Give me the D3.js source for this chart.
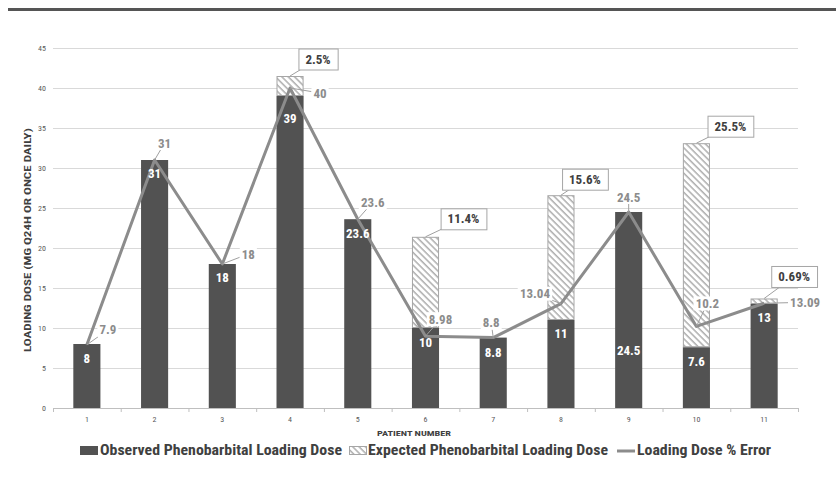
<!DOCTYPE html>
<html>
<head>
<meta charset="utf-8">
<script src="https://cdn.jsdelivr.net/npm/d3@7"></script>
<style>
  html, body { margin: 0; padding: 0; background: #fff; }
  svg { display: block; }
  text { font-family: 'Liberation Sans Narrow', 'Roboto Condensed', 'Open Sans', sans-serif; }
</style>
</head>
<body>
<svg id="chart" width="836" height="483"></svg>
<script>
// data
const patients = ['1', '2', '3', '4', '5', '6', '7', '8', '9', '10', '11'];
const observed = [8, 31, 18, 39, 23.6, 10, 8.8, 11, 24.5, 7.6, 13];
const pctError = [0, 0, 0, 2.5, 0, 11.4, 0, 15.6, 0, 25.5, 0.69];
const expectedLine = [7.9, 31, 18, 40, 23.6, 8.98, 8.8, 13.04, 24.5, 10.2, 13.09];
const lineLabels = ['7.9', '31', '18', '40', '23.6', '8.98', '8.8', '13.04', '24.5', '10.2', '13.09'];
const yTicks = [0, 5, 10, 15, 20, 25, 30, 35, 40, 45];

// label placement nudges (pixels)
const lineLabelNudge = [[21, -15], [10, -17], [26, -10], [30, 5], [15, -17], [15, -17],
                        [-2, -15], [-26, -10], [0, -15], [11, -23], [41, -1]];
const obsLabelDy = [14, 13, 13, 22, 14, 14, 15, 13, 138, 14, 13];
const calloutNudge = {3: [28, -17], 5: [38, -18], 7: [24, -16], 9: [34, -17], 10: [30, -22]};

const svg = d3.select('#chart');
const dark = '#525252', lineCol = '#8c8c8c', grid = '#d9d9d9';

// header rule
svg.append('rect').attr('x', 8).attr('y', 8).attr('width', 828).attr('height', 3).attr('fill', '#555');

const x = d3.scaleBand().domain(patients).range([53, 798]).paddingInner(0.6).paddingOuter(0.3);
const y = d3.scaleLinear().domain([0, 45]).range([408, 48]);
const step = x.step();

const defs = svg.append('defs');
defs.append('pattern')
    .attr('id', 'hatch')
    .attr('patternUnits', 'userSpaceOnUse')
    .attr('width', 4.5).attr('height', 4.5)
    .attr('patternTransform', 'rotate(-45)')
  .call(p => {
      p.append('rect').attr('width', 4.5).attr('height', 4.5).attr('fill', '#fff');
      p.append('line').attr('x1', 1).attr('x2', 1).attr('y1', 0).attr('y2', 4.5)
          .attr('stroke', '#9a9a9a').attr('stroke-width', 1.2);
  });

// gridlines
svg.append('g').selectAll('line').data(yTicks.filter(d => d > 0)).join('line')
    .attr('x1', 53).attr('x2', 798)
    .attr('y1', d => y(d) + 0.5).attr('y2', d => y(d) + 0.5)
    .attr('stroke', grid);

// y axis labels
const yAxis = svg.append('g')
    .attr('transform', 'translate(46,0)')
    .call(d3.axisLeft(y).tickValues(yTicks).tickSize(0).tickPadding(0));
yAxis.select('.domain').remove();
yAxis.selectAll('text').attr('fill', '#595959').style('font-size', '8px')
    .style('font-family', "'Liberation Sans Narrow', 'Roboto Condensed', sans-serif");

// x axis
svg.append('line').attr('x1', 53).attr('x2', 798).attr('y1', 408.5).attr('y2', 408.5).attr('stroke', '#bfbfbf');
svg.append('g').selectAll('line').data(d3.range(patients.length + 1)).join('line')
    .attr('x1', i => 53 + i * step + 0.5).attr('x2', i => 53 + i * step + 0.5)
    .attr('y1', 408).attr('y2', 412).attr('stroke', '#bfbfbf');
svg.append('g').selectAll('text').data(patients).join('text')
    .attr('x', d => x(d) + x.bandwidth() / 2).attr('y', 422)
    .attr('text-anchor', 'middle').attr('fill', '#595959').style('font-size', '8px')
    .text(d => d);

// axis titles
svg.append('text')
    .attr('x', 414).attr('y', 436).attr('text-anchor', 'middle')
    .attr('fill', '#404040').style('font-size', '8px').style('font-weight', 'bold')
    .attr('textLength', 74).attr('lengthAdjust', 'spacingAndGlyphs')
    .text('PATIENT NUMBER');
svg.append('text')
    .attr('transform', 'translate(31,240) rotate(-90)')
    .attr('text-anchor', 'middle')
    .attr('fill', '#404040').style('font-size', '9.5px').style('font-weight', 'bold')
    .attr('textLength', 224).attr('lengthAdjust', 'spacingAndGlyphs')
    .text('LOADING DOSE (MG Q24H OR ONCE DAILY)');

// bars
svg.append('g').selectAll('rect').data(patients).join('rect')
    .attr('x', d => x(d)).attr('width', x.bandwidth())
    .attr('y', (d, i) => y(observed[i]))
    .attr('height', (d, i) => y(0) - y(observed[i]))
    .attr('fill', dark);

const hatchIdx = d3.range(patients.length).filter(i => pctError[i] > 0);
svg.append('g').selectAll('rect').data(hatchIdx).join('rect')
    .attr('x', i => x(patients[i]) + 0.5).attr('width', x.bandwidth() - 1)
    .attr('y', i => y(observed[i] + pctError[i]) + 0.5)
    .attr('height', i => y(observed[i]) - y(observed[i] + pctError[i]) - 1)
    .attr('fill', 'url(#hatch)').attr('stroke', '#a6a6a6');

// line
const cx = i => x(patients[i]) + x.bandwidth() / 2;
svg.append('path')
    .datum(expectedLine)
    .attr('d', d3.line().x((d, i) => cx(i)).y(d => y(d)))
    .attr('fill', 'none').attr('stroke', lineCol).attr('stroke-width', 3)
    .attr('stroke-linejoin', 'round');

// line data labels with leaders
const lineLab = svg.append('g');
expectedLine.forEach((v, i) => {
    const px = cx(i), py = y(v);
    const lx = px + lineLabelNudge[i][0], ly = py + lineLabelNudge[i][1];
    const g = lineLab.append('g');
    const t = g.append('text').attr('x', lx).attr('y', ly).attr('dy', '0.35em')
        .attr('text-anchor', 'middle').attr('fill', '#8c8c8c')
        .style('font-size', '13px').style('font-weight', 'bold')
        .text(lineLabels[i]);
    const bb = t.node().getBBox();
    const hw = bb.width / 2 + 2, hh = 7;
    // leader from point to label box edge
    const dx = px - lx, dy = py - ly;
    const s = Math.min(Math.abs(dx) > 0 ? hw / Math.abs(dx) : Infinity, Math.abs(dy) > 0 ? hh / Math.abs(dy) : Infinity);
    if (s < 0.75) {
        lineLab.insert('line', ':first-child')
            .attr('x1', px).attr('y1', py)
            .attr('x2', lx + dx * s).attr('y2', ly + dy * s)
            .attr('stroke', '#a0a0a0').attr('stroke-width', 1);
    }
    g.insert('rect', 'text').attr('x', lx - hw).attr('y', ly - hh).attr('width', hw * 2).attr('height', hh * 2)
        .attr('fill', '#fff');
});

// observed labels (white)
svg.append('g').selectAll('text').data(patients).join('text')
    .attr('x', d => x(d) + x.bandwidth() / 2)
    .attr('y', (d, i) => y(observed[i]) + obsLabelDy[i])
    .attr('dy', '0.35em').attr('text-anchor', 'middle')
    .attr('fill', '#fff').style('font-size', '13px').style('font-weight', 'bold')
    .text((d, i) => observed[i]);

// % error callouts
const call = svg.append('g');
hatchIdx.forEach(i => {
    const tx = cx(i), ty = y(observed[i] + pctError[i]);
    const [nx, ny] = calloutNudge[i];
    const bx = tx + nx, by = ty + ny;
    const t = call.append('text').attr('x', bx).attr('y', by).attr('dy', '0.35em')
        .attr('text-anchor', 'middle').attr('fill', '#404040')
        .style('font-size', '13px').style('font-weight', 'bold')
        .text(pctError[i] + '%');
    const w = t.node().getBBox().width + 14, h = 21;
    const dx = tx - bx, dy = ty - by;
    const s = Math.min(w / 2 / Math.abs(dx), h / 2 / Math.abs(dy));
    call.insert('line', ':first-child')
        .attr('x1', tx).attr('y1', ty).attr('x2', bx + dx * s).attr('y2', by + dy * s)
        .attr('stroke', '#a0a0a0');
    call.insert('rect', 'text')
        .attr('x', bx - w / 2 + 0.5).attr('y', by - h / 2 + 0.5).attr('width', w).attr('height', h)
        .attr('fill', '#fff').attr('stroke', '#a6a6a6');
});

// legend
const leg = svg.append('g').style('font-size', '15px').style('font-weight', 'bold');
leg.append('rect').attr('x', 80).attr('y', 446).attr('width', 18).attr('height', 9).attr('fill', dark);
leg.append('text').attr('x', 100).attr('y', 455).attr('fill', '#404040')
    .attr('textLength', 242).attr('lengthAdjust', 'spacingAndGlyphs')
    .text('Observed Phenobarbital Loading Dose');
leg.append('rect').attr('x', 349.5).attr('y', 446.5).attr('width', 17).attr('height', 8)
    .attr('fill', 'url(#hatch)').attr('stroke', '#a6a6a6');
leg.append('text').attr('x', 368).attr('y', 455).attr('fill', '#404040')
    .attr('textLength', 240).attr('lengthAdjust', 'spacingAndGlyphs')
    .text('Expected Phenobarbital Loading Dose');
leg.append('line').attr('x1', 617).attr('x2', 635).attr('y1', 451).attr('y2', 451)
    .attr('stroke', lineCol).attr('stroke-width', 3);
leg.append('text').attr('x', 637).attr('y', 455).attr('fill', '#404040')
    .attr('textLength', 134).attr('lengthAdjust', 'spacingAndGlyphs')
    .text('Loading Dose % Error');
</script>
</body>
</html>
